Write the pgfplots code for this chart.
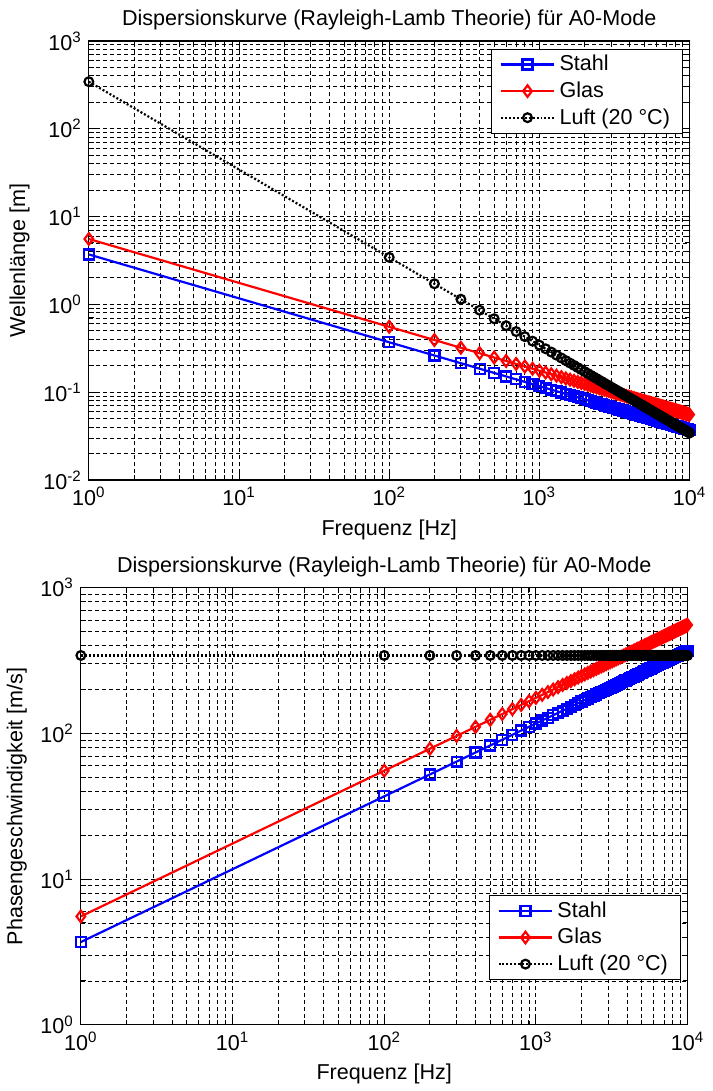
\documentclass[border=0pt]{standalone}
\usepackage{fontspec}
\setmainfont{Liberation Sans}
\usepackage{pgfplots}
\usepackage{pgfplotstable}
\pgfplotsset{compat=1.18}

% f [Hz], wavelength [m] (Stahl, Glas, Luft), phase velocity [m/s] (Stahl, Glas, Luft)
\pgfplotstableread{
f lS lG lL cS cG cL
1 3.70 5.55 343 3.70 5.55 343
100 0.3700 0.5550 3.430 37.0 55.5 343
200 0.2616 0.3924 1.715 52.3 78.5 343
300 0.2136 0.3204 1.1433 64.1 96.1 343
400 0.1850 0.2775 0.8575 74.0 111.0 343
500 0.1655 0.2482 0.6860 82.7 124.1 343
600 0.1511 0.2266 0.5717 90.6 135.9 343
700 0.1398 0.2098 0.4900 97.9 146.8 343
800 0.1308 0.1962 0.4288 104.7 157.0 343
900 0.1233 0.1850 0.3811 111.0 166.5 343
1000 0.1170 0.1755 0.3430 117.0 175.5 343
1100 0.1116 0.1673 0.3118 122.7 184.1 343
1200 0.1068 0.1602 0.2858 128.2 192.3 343
1300 0.1026 0.1539 0.2638 133.4 200.1 343
1400 0.0989 0.1483 0.2450 138.4 207.7 343
1500 0.0955 0.1433 0.2287 143.3 215.0 343
1600 0.0925 0.1388 0.2144 148.0 222.0 343
1700 0.0897 0.1346 0.2018 152.6 228.8 343
1800 0.0872 0.1308 0.1906 157.0 235.5 343
1900 0.0849 0.1273 0.1805 161.3 241.9 343
2000 0.0827 0.1241 0.1715 165.5 248.2 343
2100 0.0807 0.1211 0.1633 169.6 254.3 343
2200 0.0789 0.1183 0.1559 173.5 260.3 343
2300 0.0772 0.1157 0.1491 177.4 266.2 343
2400 0.0755 0.1133 0.1429 181.3 271.9 343
2500 0.0740 0.1110 0.1372 185.0 277.5 343
2600 0.0726 0.1088 0.1319 188.7 283.0 343
2700 0.0712 0.1068 0.1270 192.3 288.4 343
2800 0.0699 0.1049 0.1225 195.8 293.7 343
2900 0.0687 0.1031 0.1183 199.3 298.9 343
3000 0.0676 0.1013 0.1143 202.7 304.0 343
3100 0.0665 0.0997 0.1106 206.0 309.0 343
3200 0.0654 0.0981 0.1072 209.3 314.0 343
3300 0.0644 0.0966 0.1039 212.6 318.8 343
3400 0.0635 0.0952 0.1009 215.7 323.6 343
3500 0.0625 0.0938 0.0980 218.9 328.3 343
3600 0.0617 0.0925 0.0953 222.0 333.0 343
3700 0.0608 0.0912 0.0927 225.1 337.6 343
3800 0.0600 0.0900 0.0903 228.1 342.1 343
3900 0.0592 0.0889 0.0879 231.1 346.6 343
4000 0.0585 0.0878 0.0858 234.0 351.0 343
4100 0.0578 0.0867 0.0837 236.9 355.4 343
4200 0.0571 0.0856 0.0817 239.8 359.7 343
4300 0.0564 0.0846 0.0798 242.6 363.9 343
4400 0.0558 0.0837 0.0780 245.4 368.1 343
4500 0.0552 0.0827 0.0762 248.2 372.3 343
4600 0.0546 0.0818 0.0746 250.9 376.4 343
4700 0.0540 0.0810 0.0730 253.7 380.5 343
4800 0.0534 0.0801 0.0715 256.3 384.5 343
4900 0.0529 0.0793 0.0700 259.0 388.5 343
5000 0.0523 0.0785 0.0686 261.6 392.4 343
5100 0.0518 0.0777 0.0673 264.2 396.3 343
5200 0.0513 0.0770 0.0660 266.8 400.2 343
5300 0.0508 0.0762 0.0647 269.4 404.0 343
5400 0.0504 0.0755 0.0635 271.9 407.8 343
5500 0.0499 0.0748 0.0624 274.4 411.6 343
5600 0.0494 0.0742 0.0613 276.9 415.3 343
5700 0.0490 0.0735 0.0602 279.3 419.0 343
5800 0.0486 0.0729 0.0591 281.8 422.7 343
5900 0.0482 0.0723 0.0581 284.2 426.3 343
6000 0.0478 0.0717 0.0572 286.6 429.9 343
6100 0.0474 0.0711 0.0562 289.0 433.5 343
6200 0.0470 0.0705 0.0553 291.3 437.0 343
6300 0.0466 0.0699 0.0544 293.7 440.5 343
6400 0.0463 0.0694 0.0536 296.0 444.0 343
6500 0.0459 0.0688 0.0528 298.3 447.5 343
6600 0.0455 0.0683 0.0520 300.6 450.9 343
6700 0.0452 0.0678 0.0512 302.9 454.3 343
6800 0.0449 0.0673 0.0504 305.1 457.7 343
6900 0.0445 0.0668 0.0497 307.3 461.0 343
7000 0.0442 0.0663 0.0490 309.6 464.3 343
7100 0.0439 0.0659 0.0483 311.8 467.6 343
7200 0.0436 0.0654 0.0476 314.0 470.9 343
7300 0.0433 0.0650 0.0470 316.1 474.2 343
7400 0.0430 0.0645 0.0464 318.3 477.4 343
7500 0.0427 0.0641 0.0457 320.4 480.6 343
7600 0.0424 0.0637 0.0451 322.6 483.8 343
7700 0.0422 0.0632 0.0445 324.7 487.0 343
7800 0.0419 0.0628 0.0440 326.8 490.2 343
7900 0.0416 0.0624 0.0434 328.9 493.3 343
8000 0.0414 0.0621 0.0429 330.9 496.4 343
8100 0.0411 0.0617 0.0423 333.0 499.5 343
8200 0.0409 0.0613 0.0418 335.0 502.6 343
8300 0.0406 0.0609 0.0413 337.1 505.6 343
8400 0.0404 0.0606 0.0408 339.1 508.7 343
8500 0.0401 0.0602 0.0404 341.1 511.7 343
8600 0.0399 0.0598 0.0399 343.1 514.7 343
8700 0.0397 0.0595 0.0394 345.1 517.7 343
8800 0.0394 0.0592 0.0390 347.1 520.6 343
8900 0.0392 0.0588 0.0385 349.1 523.6 343
9000 0.0390 0.0585 0.0381 351.0 526.5 343
9100 0.0388 0.0582 0.0377 353.0 529.4 343
9200 0.0386 0.0579 0.0373 354.9 532.3 343
9300 0.0384 0.0576 0.0369 356.8 535.2 343
9400 0.0382 0.0572 0.0365 358.7 538.1 343
9500 0.0380 0.0569 0.0361 360.6 541.0 343
9600 0.0378 0.0566 0.0357 362.5 543.8 343
9700 0.0376 0.0564 0.0354 364.4 546.6 343
9800 0.0374 0.0561 0.0350 366.3 549.4 343
9900 0.0372 0.0558 0.0346 368.1 552.2 343
10000 0.0370 0.0555 0.0343 370.0 555.0 343
}\disp

\newcommand{\tl}[1]{10\textsuperscript{#1}}
\newcommand{\fs}{\fontsize{10.8}{13.5}\selectfont}

% settings shared by both axes
\pgfplotsset{
  scale only axis,
  xmin=1, xmax=10000,
  xtick={1,10,100,1000,10000},
  xticklabels={\tl{0},\tl{1},\tl{2},\tl{3},\tl{4}},
  minor xtick={2,3,4,5,6,7,8,9,20,30,40,50,60,70,80,90,200,300,400,500,600,700,800,900,2000,3000,4000,5000,6000,7000,8000,9000},
  xmajorgrids, ymajorgrids, xminorgrids, yminorgrids,
  major grid style={black, line width=0.45pt, dash pattern=on 2pt off 1.5pt},
  minor grid style={black, line width=0.45pt, dash pattern=on 2pt off 1.5pt},
  axis line style={black, line width=0.6pt},
  tick style={black, line width=0.5pt},
  major tick length=4pt, minor tick length=2.5pt,
  tick label style={font=\fs},
  label style={font=\fs},
  title style={font=\fs, yshift=-4pt},
  xlabel style={yshift=0pt},
  legend cell align=left,
  legend style={draw=black, fill=white, font=\fs,
    inner xsep=4pt, inner ysep=1pt, row sep=0pt},
  legend image code/.code={
    \draw[mark repeat=2, mark phase=2] plot coordinates {(0pt,0pt) (13.5pt,0pt) (27pt,0pt)};
  },
}

\begin{document}
\begin{tikzpicture}
\path (0,0) rectangle (353.5pt,545.5pt);

\begin{loglogaxis}[
    at={(44.5pt,525pt)}, anchor=north west,
    width=301pt, height=220pt,
    ymin=0.01, ymax=1000,
    ytick={0.01,0.1,1,10,100,1000},
    yticklabels={\tl{-2},\tl{-1},\tl{0},\tl{1},\tl{2},\tl{3}},
    minor ytick={0.02,0.03,0.04,0.05,0.06,0.07,0.08,0.09,0.2,0.3,0.4,0.5,0.6,0.7,0.8,0.9,2,3,4,5,6,7,8,9,20,30,40,50,60,70,80,90,200,300,400,500,600,700,800,900},
    title={Dispersionskurve (Rayleigh-Lamb Theorie) für A0-Mode},
    xlabel={Frequenz [Hz]},
    ylabel={Wellenlänge [m]},
    legend style={at={(0.988,0.982)}, anchor=north east},
]
\addplot[blue, line width=1.1pt, mark=square, mark size=2.5pt, mark options={solid}] table[x=f, y=lS] {\disp};
\addlegendentry{Stahl}
\addplot[red, line width=1.1pt, mark=diamond, mark size=2.9pt, mark options={solid}] table[x=f, y=lG] {\disp};
\addlegendentry{Glas}
\addplot[black, line width=1.1pt, dash pattern=on 1pt off 1pt, mark=o, mark size=2.2pt, mark options={solid}] table[x=f, y=lL] {\disp};
\addlegendentry{Luft (20 °C)}
\end{loglogaxis}

\begin{loglogaxis}[
    at={(40.5pt,251pt)}, anchor=north west,
    width=304pt, height=219pt,
    ymin=1, ymax=1000,
    ytick={1,10,100,1000},
    yticklabels={\tl{0},\tl{1},\tl{2},\tl{3}},
    minor ytick={2,3,4,5,6,7,8,9,20,30,40,50,60,70,80,90,200,300,400,500,600,700,800,900},
    title={Dispersionskurve (Rayleigh-Lamb Theorie) für A0-Mode},
    xlabel={Frequenz [Hz]},
    ylabel={Phasengeschwindigkeit [m/s]},
    legend style={at={(0.988,0.103)}, anchor=south east},
]
\addplot[blue, line width=1.1pt, mark=square, mark size=2.5pt, mark options={solid}] table[x=f, y=cS] {\disp};
\addlegendentry{Stahl}
\addplot[red, line width=1.1pt, mark=diamond, mark size=2.9pt, mark options={solid}] table[x=f, y=cG] {\disp};
\addlegendentry{Glas}
\addplot[black, line width=1.1pt, dash pattern=on 1pt off 1pt, mark=o, mark size=2.2pt, mark options={solid}] table[x=f, y=cL] {\disp};
\addlegendentry{Luft (20 °C)}
\end{loglogaxis}
\end{tikzpicture}
\end{document}
